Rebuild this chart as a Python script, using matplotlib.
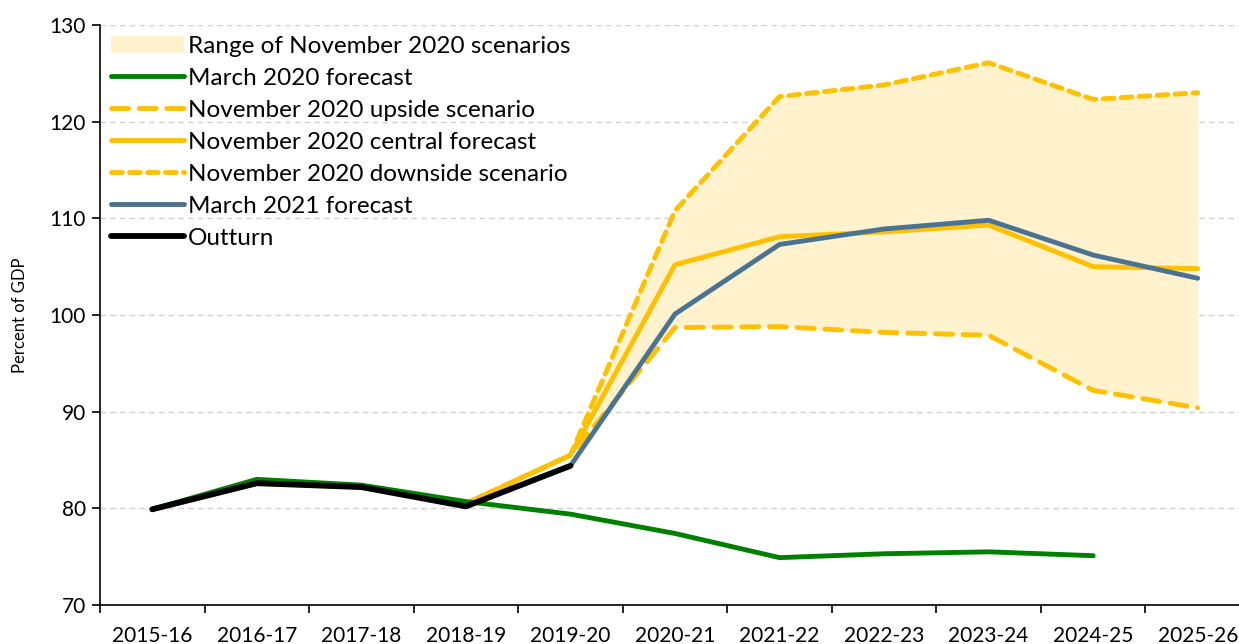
import matplotlib
matplotlib.use('Agg')
import matplotlib.pyplot as plt
import numpy as np

plt.rcParams['font.family'] = ['Lato', 'DejaVu Sans']

# Financial years on the x axis
years = ["2015-16", "2016-17", "2017-18", "2018-19", "2019-20", "2020-21",
         "2021-22", "2022-23", "2023-24", "2024-25", "2025-26"]

# Percent of GDP (None = no value)
march_2020 = [79.9, 83.0, 82.4, 80.7, 79.4, 77.4, 74.9, 75.3, 75.5, 75.1, None]
nov_upside = [79.9, 82.6, 82.2, 80.5, 85.5, 98.7, 98.8, 98.2, 97.9, 92.2, 90.4]
nov_central = [79.9, 82.6, 82.2, 80.5, 85.5, 105.2, 108.1, 108.6, 109.3, 105.0, 104.8]
nov_downside = [79.9, 82.6, 82.2, 80.5, 85.5, 110.8, 122.6, 123.8, 126.1, 122.3, 123.0]
march_2021 = [None, None, None, None, 84.4, 100.1, 107.3, 108.9, 109.8, 106.2, 103.8]
outturn = [79.9, 82.6, 82.2, 80.2, 84.4, None, None, None, None, None, None]

YELLOW = "#FFC000"
FILL = "#FFF2CC"
GREEN = "#008000"
BLUE = "#4A7393"


def arr(values):
    return np.array([np.nan if v is None else v for v in values], dtype=float)


x = np.arange(len(years))

fig = plt.figure(figsize=(12.39, 6.44), dpi=100)
ax = fig.add_axes([100 / 1239, 39 / 644, 1150 / 1239, 580 / 644])

# shaded range of scenarios from 2019-20 onwards
lo, hi = arr(nov_upside), arr(nov_downside)
ax.fill_between(x[4:], lo[4:], hi[4:], color=FILL, lw=0,
                label="Range of November 2020 scenarios", zorder=1)

common = dict(solid_capstyle='round', dash_capstyle='round', solid_joinstyle='round')
ax.plot(x, arr(march_2020), color=GREEN, lw=3.5, label="March 2020 forecast", zorder=4, **common)
ax.plot(x, lo, color=YELLOW, lw=3.5, dashes=(3.5, 2.2),
        label="November 2020 upside scenario", zorder=2, **common)
ax.plot(x, arr(nov_central), color=YELLOW, lw=3.5,
        label="November 2020 central forecast", zorder=3, **common)
ax.plot(x, hi, color=YELLOW, lw=3.5, dashes=(2.2, 1.5),
        label="November 2020 downside scenario", zorder=2, **common)
ax.plot(x, arr(march_2021), color=BLUE, lw=3.5, label="March 2021 forecast", zorder=5, **common)
ax.plot(x, arr(outturn), color="black", lw=4.2, label="Outturn", zorder=6, **common)

ax.set_xlim(-0.5, 10.5)
ax.set_ylim(70, 130)
ax.set_yticks(np.arange(70, 131, 10))
ax.set_xticks(x)
ax.set_xticklabels(years)
ax.set_xticks(np.arange(-0.5, 10.6, 1), minor=True)
ax.tick_params(axis='x', which='major', length=0, pad=15, labelsize=15)
ax.tick_params(axis='x', which='minor', length=6, width=1.2, direction='out')
ax.tick_params(axis='y', length=6, width=1.2, labelsize=15, pad=4)

for s in ("top", "right"):
    ax.spines[s].set_visible(False)
for s in ("left", "bottom"):
    ax.spines[s].set_linewidth(1.2)

ax.yaxis.grid(True, color="#D0D0D0", linestyle=(0, (4, 3)), linewidth=1)
ax.set_axisbelow(True)
ax.set_ylabel("Percent of GDP", fontsize=12, labelpad=16)

leg = ax.legend(loc="upper left", bbox_to_anchor=(0.0, 1.0), frameon=False,
                fontsize=17.5, handlelength=3.0, handletextpad=0.15,
                labelspacing=0.45, borderaxespad=0.05)

fig.savefig("out.png", dpi=100)
